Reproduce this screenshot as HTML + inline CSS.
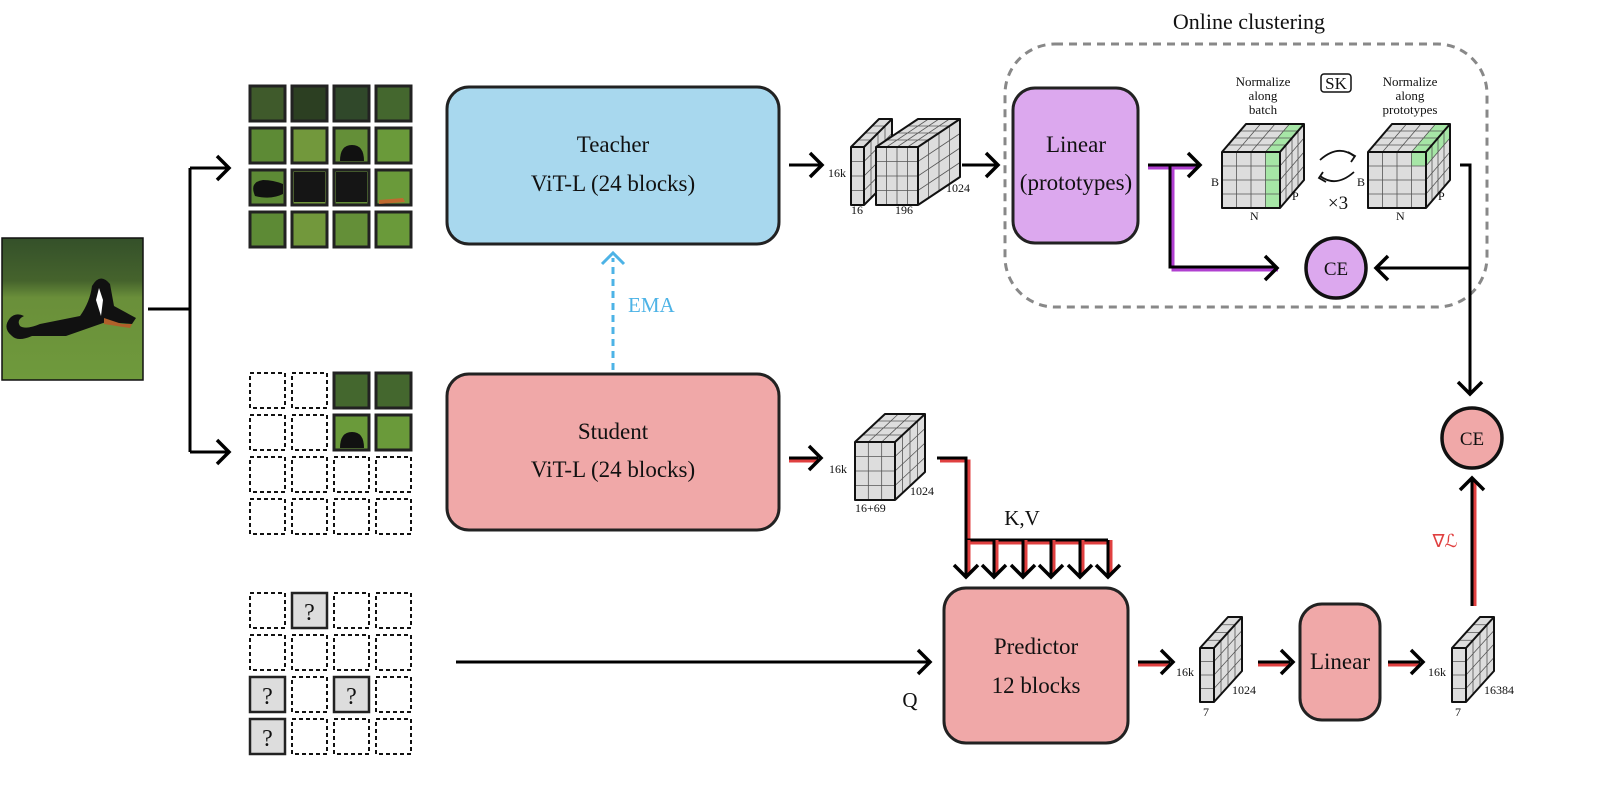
<!DOCTYPE html>
<html><head><meta charset="utf-8"><style>
html,body{margin:0;padding:0;background:#fff}
svg{display:block}
text{font-family:"Liberation Serif",serif;fill:#111}
</style></head><body>
<svg id="s" width="1597" height="806" viewBox="0 0 1597 806" xmlns="http://www.w3.org/2000/svg">
<defs>
<linearGradient id="ph" x1="0" y1="0" x2="0" y2="1"><stop offset="0" stop-color="#34502a"/><stop offset="0.3" stop-color="#45632c"/><stop offset="0.42" stop-color="#6a8f3a"/><stop offset="1" stop-color="#6f9a3c"/></linearGradient>
</defs>
<!-- dog photo -->
<rect x="2" y="238" width="141" height="142" fill="url(#ph)" stroke="#111" stroke-width="1.5"/>
<path d="M12,336 q-10,-8 -2,-18 q6,-6 14,-2 q-8,4 -4,10 q6,4 20,-2 l40,-8 q10,-14 12,-30 q8,-14 18,-2 l4,22 l22,12 l-4,6 l-26,-2 l-40,14 l-34,0 q-14,6 -20,0z" fill="#111"/>
<path d="M96,300 l3,-12 l4,12 l-2,16z" fill="#fff"/>
<path d="M104,318 l18,6 l10,0 l-2,4 l-26,-4z" fill="#b0602a"/>
<!-- branch -->
<g stroke="#000" stroke-width="3" fill="none">
<path d="M148,309 H190 M190,168 V452 M190,168 H228 M190,452 H228"/>
<path d="M217,156 l12,12 l-12,12 M217,440 l12,12 l-12,12" stroke-width="3.5"/>
</g>
<g id="grids"></g>
<!-- teacher -->
<rect x="447" y="87" width="332" height="157" rx="22" fill="#a8d8ee" stroke="#222" stroke-width="3"/>
<text x="613" y="152" font-size="23" text-anchor="middle">Teacher</text>
<text x="613" y="191" font-size="23" text-anchor="middle">ViT-L (24 blocks)</text>
<!-- student -->
<rect x="447" y="374" width="332" height="156" rx="22" fill="#f0a8a8" stroke="#222" stroke-width="3"/>
<text x="613" y="439" font-size="23" text-anchor="middle">Student</text>
<text x="613" y="477" font-size="23" text-anchor="middle">ViT-L (24 blocks)</text>
<!-- EMA -->
<path d="M613,370 V258" stroke="#4db3e6" stroke-width="3" stroke-dasharray="7,5" fill="none"/>
<path d="M602,264 l11,-11 l11,11" stroke="#4db3e6" stroke-width="3" fill="none"/>
<text x="628" y="312" font-size="21" style="fill:#4db3e6">EMA</text>
<!-- online clustering -->
<text x="1249" y="29" font-size="22" text-anchor="middle">Online clustering</text>
<rect x="1005" y="44" width="482" height="263" rx="50" fill="none" stroke="#888" stroke-width="3" stroke-dasharray="8,6"/>
<rect x="1013" y="88" width="125" height="155" rx="22" fill="#dca8ee" stroke="#222" stroke-width="3"/>
<text x="1076" y="152" font-size="23" text-anchor="middle">Linear</text>
<text x="1076" y="190" font-size="23" text-anchor="middle">(prototypes)</text>
<g font-size="13" text-anchor="middle">
<text x="1263" y="86">Normalize</text><text x="1263" y="100">along</text><text x="1263" y="114">batch</text>
<text x="1410" y="86">Normalize</text><text x="1410" y="100">along</text><text x="1410" y="114">prototypes</text>
</g>
<rect x="1321" y="74" width="30" height="18" rx="3" fill="none" stroke="#111" stroke-width="1.5"/>
<text x="1336" y="89" font-size="17" text-anchor="middle">SK</text>
<path d="M1320,160 q18,-16 34,-4 M1354,172 q-18,16 -34,4" stroke="#111" stroke-width="1.8" fill="none"/>
<path d="M1348,152 l7,4 l-4,6 M1326,182 l-7,-4 l4,-6" stroke="#111" stroke-width="1.8" fill="none"/>
<text x="1338" y="209" font-size="19" text-anchor="middle">×3</text>
<circle cx="1336" cy="268" r="30" fill="#dca8ee" stroke="#111" stroke-width="3.5"/>
<text x="1336" y="275" font-size="19" text-anchor="middle">CE</text>
<circle cx="1472" cy="438" r="30" fill="#f0a8a8" stroke="#111" stroke-width="3.5"/>
<text x="1472" y="445" font-size="19" text-anchor="middle">CE</text>
<!-- predictor / linear -->
<rect x="944" y="588" width="184" height="155" rx="22" fill="#f0a8a8" stroke="#222" stroke-width="3"/>
<text x="1036" y="654" font-size="23" text-anchor="middle">Predictor</text>
<text x="1036" y="693" font-size="23" text-anchor="middle">12 blocks</text>
<rect x="1300" y="604" width="80" height="116" rx="22" fill="#f0a8a8" stroke="#222" stroke-width="3"/>
<text x="1340" y="669" font-size="23" text-anchor="middle">Linear</text>
<text x="1022" y="525" font-size="21" text-anchor="middle">K,V</text>
<text x="910" y="707" font-size="21" text-anchor="middle">Q</text>
<text x="1445" y="547" font-size="18" text-anchor="middle" style="fill:#e04040">∇ℒ</text>
<g id="cubes"></g>
<g id="lines" fill="none" stroke-linejoin="miter"></g>
</svg>
<script>
const NS="http://www.w3.org/2000/svg";
function el(p,t,a,txt){const e=document.createElementNS(NS,t);for(const k in a)e.setAttribute(k,a[k]);if(txt!==undefined)e.textContent=txt;p.appendChild(e);return e;}
const G=document.getElementById('grids');
const xs=[250,292,334,376],sz=35;
const greens=['#3f5a2b','#2c3f22','#30482a','#44672e','#5d8a35','#6a9a3a','#648f38','#72983c'];
function photo(x,y,i){el(G,'rect',{x:x,y:y,width:sz,height:sz,fill:greens[i%8],stroke:'#222','stroke-width':3});}
function dash(x,y){el(G,'rect',{x:x,y:y,width:sz,height:sz,fill:'none',stroke:'#111','stroke-width':2,'stroke-dasharray':'4,3'});}
function q(x,y){el(G,'rect',{x:x,y:y,width:sz,height:sz,fill:'#ddd',stroke:'#222','stroke-width':2.5});el(G,'text',{x:x+17.5,y:y+27,'font-size':24,'text-anchor':'middle'},'?');}
const ty=[86,128,170,212];
ty.forEach((y,r)=>xs.forEach((x,c)=>{const i=r*4+c;photo(x,y,r==0?c:4+((i*3)%4));}));
// dog pieces in top grid
el(G,'path',{d:'M340,161 q0,-16 12,-16 q12,0 12,16z',fill:'#111'});
el(G,'path',{d:'M255,196 q-6,-14 8,-16 q10,0 20,4 v10 q-12,6 -28,2z',fill:'#111'});
el(G,'rect',{x:294,y:172,width:31,height:30,fill:'#151515'});
el(G,'rect',{x:336,y:172,width:31,height:30,fill:'#151515'});
el(G,'path',{d:'M379,200 l24,-2 l2,4 l-26,2z',fill:'#c06a30'});
const my=[373,415,457,499];
my.forEach((y,r)=>xs.forEach((x,c)=>{if(r<2&&c>=2){photo(x,y,r==0?3:5);}else dash(x,y);}));
el(G,'path',{d:'M340,448 q0,-16 12,-16 q12,0 12,16z',fill:'#111'});
const by=[593,635,677,719];
const qs={"0,1":1,"2,0":1,"2,2":1,"3,0":1};
by.forEach((y,r)=>xs.forEach((x,c)=>{if(qs[r+","+c])q(x,y);else dash(x,y);}));
// cubes
const C=document.getElementById('cubes');
function cube(x,y,w,h,dx,dy,cols,rows,dc,opts){opts=opts||{};
 const g=el(C,'g',{});
 el(g,'rect',{x:x,y:y,width:w,height:h,fill:'#ddd'});
 el(g,'path',{d:`M${x},${y} L${x+dx},${y-dy} L${x+w+dx},${y-dy} L${x+w},${y}Z`,fill:'#ddd'});
 el(g,'path',{d:`M${x+w},${y} L${x+w+dx},${y-dy} L${x+w+dx},${y+h-dy} L${x+w},${y+h}Z`,fill:'#ddd'});
 if(opts.green)opts.green(g);
 let d='';
 for(let i=1;i<cols;i++){const xx=x+w*i/cols;d+=`M${xx},${y+h}V${y}l${dx},${-dy}`;}
 for(let j=1;j<rows;j++){const yy=y+h*j/rows;d+=`M${x},${yy}H${x+w}l${dx},${-dy}`;}
 for(let k=1;k<dc;k++){const ox=dx*k/dc,oy=dy*k/dc;d+=`M${x+ox},${y-oy}H${x+w+ox}V${y+h-oy}`;}
 el(g,'path',{d:d,stroke:'#555','stroke-width':0.8,fill:'none'});
 el(g,'path',{d:`M${x},${y}h${w}v${h}h${-w}z M${x},${y}l${dx},${-dy}h${w}l${-dx},${dy} M${x+w+dx},${y-dy}v${h}l${-dx},${dy}`,stroke:'#111','stroke-width':2,fill:'none','stroke-linejoin':'round'});
}
function T(x,y,s,t,a){el(C,'text',{x:x,y:y,'font-size':s,'text-anchor':a||'start'},t);}
cube(851,147,13,58,28,28,1,4,4);
cube(876,147,42,58,42,28,4,4,4);
T(828,177,12,'16k');T(851,214,12,'16');T(895,214,12,'196');T(946,192,12,'1024');
cube(1222,152,58,56,24,28,4,4,4,{green:g=>{el(g,'rect',{x:1265,y:152,width:15,height:56,fill:'#a6e6a6'});el(g,'path',{d:'M1265,152 l24,-28 h15 l-24,28z',fill:'#a6e6a6'});}});
T(1211,186,12,'B');T(1250,220,12,'N');T(1292,200,12,'P');
cube(1368,152,58,56,24,28,4,4,4,{green:g=>{el(g,'rect',{x:1411,y:152,width:15,height:14,fill:'#a6e6a6'});el(g,'path',{d:'M1411,152 l24,-28 h15 l-24,28z',fill:'#a6e6a6'});el(g,'path',{d:'M1426,152 l24,-28 v14 l-24,28z',fill:'#a6e6a6'});}});
T(1357,186,12,'B');T(1396,220,12,'N');T(1438,200,12,'P');
cube(855,442,40,58,30,28,3,4,4);
T(829,473,12,'16k');T(855,512,12,'16+69');T(910,495,12,'1024');
cube(1200,648,14,54,28,31,1,4,4);
T(1176,676,12,'16k');T(1203,716,12,'7');T(1232,694,12,'1024');
cube(1452,648,14,54,28,31,1,4,4);
T(1428,676,12,'16k');T(1455,716,12,'7');T(1484,694,12,'16384');
const L=document.getElementById('lines');
function blk(d,w){el(L,'path',{d:d,stroke:'#000','stroke-width':w||3});}
function dbl(d,col,off){const g=el(L,'g',{transform:`translate(${off[0]},${off[1]})`});el(g,'path',{d:d,stroke:col,'stroke-width':3,fill:'none'});blk(d);}
const H=12;
function headR(x,y){blk(`M${x-H},${y-H} l${H},${H} l${-H},${H}`,3.5);}
function headL(x,y){blk(`M${x+H},${y-H} l${-H},${H} l${H},${H}`,3.5);}
function headD(x,y){blk(`M${x-H},${y-H} l${H},${H} l${H},${-H}`,3.5);}
function headU(x,y){blk(`M${x-H},${y+H} l${H},${-H} l${H},${H}`,3.5);}
blk('M789,165 H820');headR(822,165);
blk('M962,165 H996');headR(998,165);
dbl('M1148,165 H1198','#b040d0',[0,3]);headR(1200,165);
dbl('M1148,165 H1170 V267 H1275','#b040d0',[3,3]);headR(1277,268);
blk('M1460,165 H1470 V392');headD(1470,394);
blk('M1470,268 H1378');headL(1376,268);
dbl('M789,458 H818','#e04040',[0,3]);headR(821,458);
dbl('M937,458 H966 V540 H1108','#e04040',[3,3]);
[966,994,1023,1051,1080,1108].forEach(x=>{dbl(`M${x},540 V575`,'#e04040',[3,0]);headD(x,577);});
blk('M456,662 H928');headR(930,662);
dbl('M1138,662 H1170','#e04040',[0,3]);headR(1173,662);
dbl('M1258,662 H1290','#e04040',[0,3]);headR(1293,662);
dbl('M1388,662 H1420','#e04040',[0,3]);headR(1423,662);
dbl('M1472,606 V480','#e04040',[3,0]);headU(1472,478);
</script>
</body></html>
